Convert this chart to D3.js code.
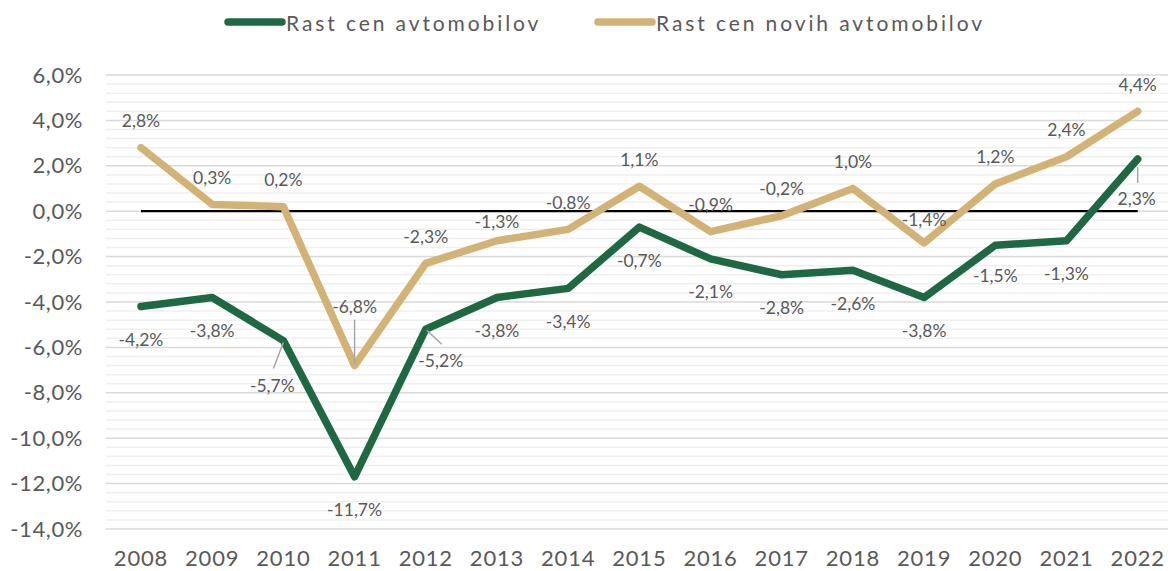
<!DOCTYPE html>
<html><head><meta charset="utf-8">
<script src="https://cdn.jsdelivr.net/npm/d3@7"></script>
<style>
body{margin:0;background:#fff;}
svg text{font-family:Lato, "Open Sans", sans-serif; fill:#595959;}
</style>
</head><body>
<svg id="chart" width="1168" height="571"></svg>
<script>
// ---- data ----
const years = ["2008","2009","2010","2011","2012","2013","2014","2015","2016","2017","2018","2019","2020","2021","2022"];
const allCars = [-4.2,-3.8,-5.7,-11.7,-5.2,-3.8,-3.4,-0.7,-2.1,-2.8,-2.6,-3.8,-1.5,-1.3,2.3];
const newCars = [2.8,0.3,0.2,-6.8,-2.3,-1.3,-0.8,1.1,-0.9,-0.2,1.0,-1.4,1.2,2.4,4.4];
const seriesNames = ["Rast cen avtomobilov","Rast cen novih avtomobilov"];
const yTicks = [-14,-12,-10,-8,-6,-4,-2,0,2,4,6];

// ---- layout / style config ----
const colors = ["#1f6942","#d3b375"];
const labelOffset = [33,-27]; // default vertical offsets (green below, gold above)
// label nudges: [dx, dy] of label centre relative to point, optional leader [x1,y1,x2,y2] relative to point
const nudges = [
  {"2010":{d:[-11,45],leader:[0,2,-10,28]},
   "2012":{d:[15,31],leader:[1,1,16,15]},
   "2020":{d:[0,30]},
   "2022":{d:[-1,40],leader:[0,8,0,24]}},
  {"2011":{d:[0,-59],leader:[0,-2,0,-46]},
   "2013":{d:[0,-19]},
   "2019":{d:[0,-23]}}
];

const svg = d3.select("#chart");
const x = d3.scaleBand().domain(years).range([105.4,1173.3]);
const cx = d => x(d) + x.bandwidth()/2;
const y = d3.scaleLinear().domain([-14,6]).range([529,75]);
const fmt = v => v.toFixed(1).replace(".",",") + "%";

// minor gridlines
const minor = d3.range(-14, 6.0001, 0.4).filter(v => Math.abs(v/2 - Math.round(v/2)) > 1e-6);
svg.append("g").selectAll("line").data(minor).join("line")
  .attr("x1",106).attr("x2",1168)
  .attr("y1",d=>y(d)).attr("y2",d=>y(d))
  .attr("stroke","#efefef").attr("stroke-width",1.5);
// major gridlines
svg.append("g").selectAll("line").data(yTicks).join("line")
  .attr("x1",106).attr("x2",1168)
  .attr("y1",d=>y(d)).attr("y2",d=>y(d))
  .attr("stroke","#d9d9d9").attr("stroke-width",1.5);

// y axis
const ya = svg.append("g").attr("transform","translate(106,0)")
  .call(d3.axisLeft(y).tickValues(yTicks).tickSize(0).tickPadding(23).tickFormat(fmt));
ya.select(".domain").remove();
ya.selectAll("text").attr("font-size",22).attr("letter-spacing",0.6).style("font-family","Lato").attr("fill","#595959");

// x axis
const xa = svg.append("g").attr("transform","translate(0,529)")
  .call(d3.axisBottom(x).tickSize(0).tickPadding(21));
xa.select(".domain").remove();
xa.selectAll("text").attr("font-size",22).attr("letter-spacing",0.8).style("font-family","Lato").attr("fill","#595959");

// zero line
svg.append("line")
  .attr("x1",cx(years[0])).attr("x2",cx(years[years.length-1]))
  .attr("y1",y(0)).attr("y2",y(0))
  .attr("stroke","#000").attr("stroke-width",2.2);

// series lines
const seriesData = [allCars,newCars];
const line = d3.line().x((d,i)=>cx(years[i])).y(d=>y(d));
[1,0].forEach(s=>{
  svg.append("path").datum(seriesData[s])
    .attr("d",line).attr("fill","none")
    .attr("stroke",colors[s]).attr("stroke-width",7.5)
    .attr("stroke-linejoin","round").attr("stroke-linecap","round");
});

// labels
[0,1].forEach(s=>{
  const g = svg.append("g");
  seriesData[s].forEach((v,i)=>{
    const yr = years[i];
    const px = cx(yr), py = y(v);
    const n = nudges[s][yr];
    const d = n ? n.d : [0,labelOffset[s]];
    if(n && n.leader){
      const L = n.leader;
      g.append("line").attr("x1",px+L[0]).attr("y1",py+L[1]).attr("x2",px+L[2]).attr("y2",py+L[3])
        .attr("stroke","#a6a6a6").attr("stroke-width",1.5);
    }
    g.append("text").attr("x",px+d[0]).attr("y",py+d[1])
      .attr("text-anchor","middle").attr("dominant-baseline","central")
      .attr("font-size",17.5).text(fmt(v));
  });
});

// legend
const legendX = [228,598];
seriesNames.forEach((name,s)=>{
  const g = svg.append("g").attr("transform",`translate(${legendX[s]},22)`);
  g.append("line").attr("x1",0).attr("x2",54).attr("y1",0).attr("y2",0)
    .attr("stroke",colors[s]).attr("stroke-width",7.5).attr("stroke-linecap","round");
  g.append("text").attr("x",58).attr("y",0).attr("dominant-baseline","central")
    .attr("font-size",21).attr("letter-spacing",2.9).text(name);
});
</script>
</body></html>
